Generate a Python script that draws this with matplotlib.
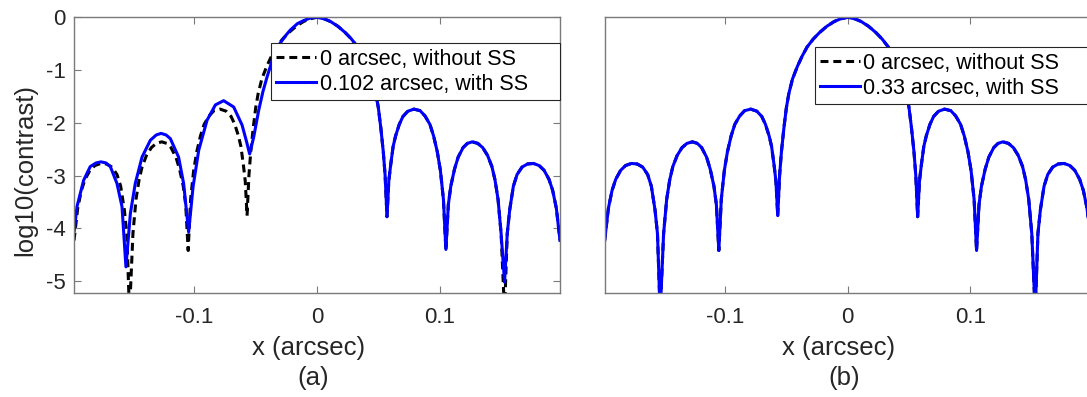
import matplotlib
matplotlib.use("Agg")
import matplotlib.pyplot as plt

plt.rcParams['font.family'] = ['Liberation Sans', 'DejaVu Sans']
plt.rcParams['axes.unicode_minus'] = False

# ---- data (x in arcsec, y = log10(contrast)) ----
# 0 arcsec, without SS  (same curve in both panels)
x_ref = [-0.198, -0.195, -0.192, -0.189, -0.185, -0.181, -0.1763, -0.1715, -0.167, -0.163,
         -0.160, -0.157, -0.155, -0.1528, -0.150, -0.1475, -0.145, -0.1425, -0.139, -0.135,
         -0.131, -0.1265, -0.1225, -0.119, -0.115, -0.112, -0.109, -0.107, -0.105, -0.103,
         -0.1005, -0.098, -0.095, -0.092, -0.088, -0.084, -0.079, -0.074, -0.070, -0.067,
         -0.064, -0.062, -0.060, -0.0585, -0.057, -0.0555, -0.054, -0.052, -0.050, -0.048,
         -0.045, -0.041, -0.037, -0.033, -0.028, -0.023, -0.017, -0.011, -0.006, 0.0,
         0.006, 0.011, 0.017, 0.023, 0.028, 0.033, 0.037, 0.041, 0.045, 0.048,
         0.050, 0.052, 0.054, 0.0555, 0.057, 0.0585, 0.060, 0.062, 0.064, 0.067,
         0.070, 0.074, 0.079, 0.084, 0.088, 0.092, 0.095, 0.098, 0.1005, 0.103,
         0.105, 0.107, 0.109, 0.112, 0.115, 0.119, 0.1225, 0.1265, 0.131, 0.135,
         0.139, 0.1425, 0.145, 0.1475, 0.150, 0.1528, 0.155, 0.157, 0.160, 0.163,
         0.167, 0.1715, 0.1763, 0.181, 0.185, 0.189, 0.192, 0.195, 0.198]
y_ref = [-4.23, -3.62, -3.28, -3.07, -2.90, -2.81, -2.77, -2.78, -2.84, -2.98,
         -3.20, -3.65, -4.10, -5.60, -4.10, -3.45, -3.08, -2.83, -2.62, -2.47,
         -2.39, -2.36, -2.39, -2.47, -2.65, -2.88, -3.20, -3.55, -4.42, -3.45,
         -2.90, -2.55, -2.25, -2.03, -1.87, -1.77, -1.74, -1.78, -1.88, -2.03,
         -2.25, -2.45, -2.80, -3.10, -3.76, -3.00, -2.55, -2.10, -1.72, -1.45,
         -1.17, -0.93, -0.73, -0.56, -0.41, -0.29, -0.17, -0.08, -0.03, 0.00,
         -0.03, -0.08, -0.17, -0.29, -0.41, -0.56, -0.73, -0.93, -1.17, -1.45,
         -1.72, -2.10, -2.55, -3.00, -3.78, -3.10, -2.80, -2.45, -2.25, -2.03,
         -1.88, -1.78, -1.74, -1.77, -1.87, -2.03, -2.25, -2.55, -2.90, -3.45,
         -4.42, -3.55, -3.20, -2.88, -2.65, -2.47, -2.39, -2.36, -2.39, -2.47,
         -2.62, -2.83, -3.08, -3.45, -4.10, -5.60, -4.10, -3.65, -3.20, -2.98,
         -2.84, -2.78, -2.77, -2.81, -2.90, -3.07, -3.28, -3.62, -4.23]

# 0.102 arcsec, with SS  (panel a)
x_ss_a = [-0.1978, -0.1956, -0.1902, -0.1848, -0.180, -0.1760, -0.172, -0.1684, -0.1630, -0.1589,
          -0.1557, -0.1521, -0.1481, -0.1426, -0.1358, -0.131, -0.1271, -0.123, -0.1195, -0.1128,
          -0.1087, -0.1046, -0.1010, -0.0964, -0.0896, -0.0828, -0.0761, -0.0679, -0.0611, -0.0575,
          -0.0549, -0.0516, -0.0475, -0.0440, -0.0407, -0.0360, -0.0304, -0.0250, -0.0217, -0.0160,
          -0.0108, -0.005, 0.0,
          0.006, 0.011, 0.017, 0.023, 0.028, 0.033, 0.037, 0.041, 0.045, 0.048,
          0.050, 0.052, 0.054, 0.0555, 0.057, 0.0585, 0.060, 0.062, 0.064, 0.067,
          0.070, 0.074, 0.079, 0.084, 0.088, 0.092, 0.095, 0.098, 0.1005, 0.103,
          0.105, 0.107, 0.109, 0.112, 0.115, 0.119, 0.1225, 0.1265, 0.131, 0.135,
          0.139, 0.1425, 0.145, 0.1475, 0.150, 0.1528, 0.155, 0.157, 0.160, 0.163,
          0.167, 0.1715, 0.1763, 0.181, 0.185, 0.189, 0.192, 0.195, 0.198]
y_ss_a = [-4.04, -3.59, -3.09, -2.83, -2.76, -2.74, -2.76, -2.83, -3.15, -3.59,
          -4.73, -3.72, -3.15, -2.65, -2.33, -2.23, -2.20, -2.23, -2.30, -2.65,
          -3.15, -4.07, -3.21, -2.52, -1.95, -1.66, -1.58, -1.70, -2.04, -2.35,
          -2.59, -2.27, -1.76, -1.40, -1.13, -0.78, -0.50, -0.33, -0.24, -0.12,
          -0.06, -0.01, 0.00,
          -0.03, -0.08, -0.17, -0.29, -0.41, -0.56, -0.73, -0.93, -1.17, -1.45,
          -1.72, -2.10, -2.55, -3.00, -3.78, -3.10, -2.80, -2.45, -2.25, -2.03,
          -1.88, -1.78, -1.74, -1.77, -1.87, -2.03, -2.25, -2.55, -2.90, -3.45,
          -4.40, -3.55, -3.20, -2.88, -2.65, -2.47, -2.39, -2.36, -2.39, -2.47,
          -2.62, -2.83, -3.08, -3.45, -4.10, -5.02, -4.10, -3.65, -3.20, -2.98,
          -2.84, -2.78, -2.77, -2.81, -2.90, -3.07, -3.28, -3.62, -4.23]

# 0.33 arcsec, with SS  (panel b) -- lies exactly on the reference curve
x_ss_b = x_ref
y_ss_b = y_ref

labels_a = ['0 arcsec, without SS', '0.102 arcsec, with SS']
labels_b = ['0 arcsec, without SS', '0.33 arcsec, with SS']
xtick_vals = [-0.1, 0, 0.1]
xtick_labels = ['-0.1', '0', '0.1']
ytick_vals = [-5, -4, -3, -2, -1, 0]
ytick_labels = ['-5', '-4', '-3', '-2', '-1', '0']

TXT = '#262626'
SPINE = '#7a7a7a'

fig = plt.figure(figsize=(10.87, 3.97), dpi=100)
ax_a = fig.add_axes([0.0681, 0.2627, 0.4471, 0.6937])
ax_b = fig.add_axes([0.5563, 0.2627, 0.4471, 0.6937])


def style_axes(ax, sub, show_y):
    ax.set_xlim(-0.198, 0.198)
    ax.set_ylim(-5.22, 0)
    ax.set_xticks(xtick_vals)
    ax.set_xticklabels(xtick_labels)
    if show_y:
        ax.set_yticks(ytick_vals)
        ax.set_yticklabels(ytick_labels)
        ax.set_ylabel('log10(contrast)', fontsize=18.5, color=TXT, va='center')
        ax.yaxis.set_label_coords(-0.101, 0.4455)
    else:
        ax.set_yticks([])
    ax.tick_params(direction='in', length=5, width=0.8, color=SPINE,
                   labelsize=16, labelcolor=TXT, top=True, right=True)
    ax.tick_params(axis='x', pad=10)
    ax.tick_params(axis='y', pad=6)
    for s in ax.spines.values():
        s.set_color(SPINE)
        s.set_linewidth(1.0)
    # two-line caption under each panel
    ax.set_xlabel('x (arcsec)', fontsize=18.5, color=TXT, va='center')
    ax.xaxis.set_label_coords(0.482, -0.200)
    ax.text(0.4925, -0.309, '(' + sub + ')', transform=ax.transAxes,
            fontsize=18.5, color=TXT, ha='center', va='center')


def add_legend(ax, labels, x0, top):
    leg = ax.legend(labels, loc='upper left', bbox_to_anchor=(x0, 0.0, 1.0 - x0, top),
                    mode='expand', borderaxespad=0, fontsize=15.5, frameon=True,
                    fancybox=False, handlelength=1.85, handletextpad=0.16,
                    borderpad=0.25, labelspacing=0.2)
    fr = leg.get_frame()
    fr.set_edgecolor('#262626')
    fr.set_linewidth(0.8)
    fr.set_alpha(1)


# panel (a)
ax_a.plot(x_ref, y_ref, color='black', lw=2.2, dashes=(2.6, 1.6))
ax_a.plot(x_ss_a, y_ss_a, color='#0000ff', lw=2.2)
style_axes(ax_a, 'a', True)
add_legend(ax_a, labels_a, 0.405, 0.9056)

# panel (b)
ax_b.plot(x_ref, y_ref, color='black', lw=2.2, dashes=(2.6, 1.6))
ax_b.plot(x_ss_b, y_ss_b, color='#0000ff', lw=2.2)
style_axes(ax_b, 'b', False)
add_legend(ax_b, labels_b, 0.432, 0.891)

fig.savefig('out.png', dpi=100)
